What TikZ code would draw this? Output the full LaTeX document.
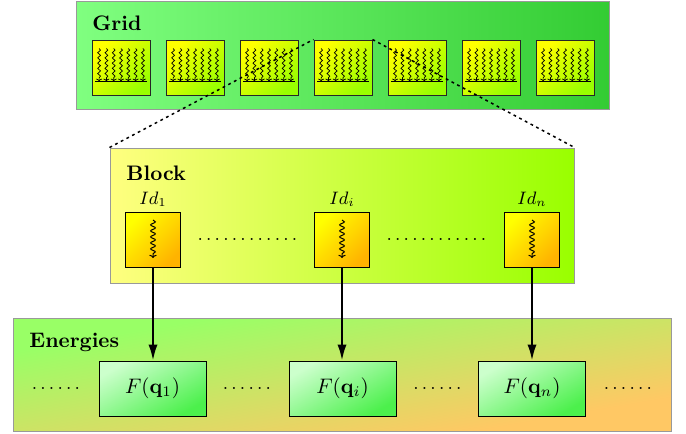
\RequirePackage{fix-cm}
\documentclass[tikz,border=0pt]{standalone}
\usetikzlibrary{arrows.meta,decorations.pathmorphing,calc}
\definecolor{gridL}{HTML}{80FF80}
\definecolor{gridR}{HTML}{33CC33}
\definecolor{blockL}{HTML}{FFFF80}
\definecolor{blockR}{HTML}{99FF00}
\definecolor{cellA}{HTML}{FFFF00}
\definecolor{cellB}{HTML}{99FF00}
\definecolor{idA}{HTML}{FFFF00}
\definecolor{idB}{HTML}{FFB300}
\definecolor{fA}{HTML}{CCFFCC}
\definecolor{fB}{HTML}{4CF04C}
\definecolor{enA}{HTML}{99FF66}
\definecolor{enB}{HTML}{FFC864}
\begin{document}
\begin{tikzpicture}[x=0.5pt,y=-0.5pt,
  panel/.style={draw=black!40, line width=0.5pt, inner sep=0pt},
  ptitle/.style={font=\fontsize{10.5}{12.6}\selectfont\bfseries, inner sep=0pt, anchor=base west},
  cell/.style={draw=black!85, line width=0.5pt, inner sep=0pt, minimum width=29pt, minimum height=27.5pt,
    top color=cellA, bottom color=cellB, shading angle=45},
  idbox/.style={draw=black, line width=0.5pt, inner sep=0pt, minimum width=27.5pt, minimum height=27.5pt,
    top color=idA, bottom color=idB, shading angle=45},
  fbox/.style={draw=black, line width=0.5pt, inner sep=0pt, minimum width=53.5pt, minimum height=27.5pt,
    top color=fA, bottom color=fB, shading angle=30, font=\fontsize{10.5}{12.6}\selectfont},
  idlab/.style={font=\fontsize{9}{11}\selectfont, inner sep=0pt, anchor=base},
  dots/.style={font=\fontsize{9.4}{11}\selectfont, inner sep=0pt, anchor=base},
  wavy/.style={line width=0.35pt, decorate, decoration={snake, amplitude=0.7pt, segment length=2.6pt, post length=1.5pt},
    -{To[length=1.3pt,width=3pt]}},
  wavybig/.style={line width=0.5pt, decorate, decoration={snake, amplitude=1.2pt, segment length=3pt, post length=2pt},
    -{To[length=1.6pt,width=3.6pt]}},
  link/.style={line width=0.75pt, dash pattern=on 1.4pt off 1.8pt},
  feed/.style={line width=1pt, -{Latex[length=8pt,width=4.6pt]}}
]
\useasboundingbox (0,0) rectangle (686,434);

% panels
\node[panel, minimum width=266.5pt, minimum height=54pt, left color=gridL, right color=gridR] (grid) at (342.5,55) {};
\node[panel, minimum width=232pt, minimum height=67.5pt, left color=blockL, right color=blockR] (block) at (342,215.5) {};
\begin{scope}[transform canvas={shift={(342,374.5)}, xscale=5.823}]
  \shade[top color=enA, bottom color=enB, shading angle=45] (-28.25pt,-28.25pt) rectangle (28.25pt,28.25pt);
\end{scope}
\node[panel, minimum width=329pt, minimum height=56.5pt] (energies) at (342,374.5) {};

\node[ptitle] (gridtitle) at (92,30) {Grid};
\node[ptitle] (blocktitle) at (126,180) {Block};
\node[ptitle] (energiestitle) at (29,347) {Energies};

% grid cells
\foreach \i in {1,...,7} {
  \node[cell] (c\i) at ({121+74*(\i-1)},67.5) {};
  \foreach \dx in {-21.9,-14.6,-7.3,0,7.3,14.6,21.9}
    \draw[wavy] ([shift={(\dx,-19)}]c\i.center) -- ([shift={(\dx,13.8)}]c\i.center);
  \draw[line width=0.3pt] ([shift={(-26,14)}]c\i.center) -- ([shift={(26,14)}]c\i.center);
}

% block items
\node[idbox] (id1) at (153,239.5) {};
\node[idbox] (idi) at (342,239.5) {};
\node[idbox] (idn) at (532,239.5) {};
\foreach \n in {id1,idi,idn}
  \draw[wavybig] ([shift={(0,-19.5)}]\n.center) -- ([shift={(0,18.5)}]\n.center);
\node[idlab] (lab1) at (153,204) {$Id_1$};
\node[idlab] (labi) at (342,204) {$Id_i$};
\node[idlab] (labn) at (532,204) {$Id_n$};
\node[dots] (bd1) at (247.5,240.5) {$\ldots\ldots\ldots\ldots$};
\node[dots] (bd2) at (436.5,240.5) {$\ldots\ldots\ldots\ldots$};

% energies
\node[fbox] (f1) at (152.5,388.5) {$F(\mathbf{q}_1)$};
\node[fbox] (fi) at (342.5,388.5) {$F(\mathbf{q}_i)$};
\node[fbox] (fn) at (532,388.5) {$F(\mathbf{q}_n)$};
\node[dots] (ed1) at (56,389.5) {$\ldots\ldots$};
\node[dots] (ed2) at (247,389.5) {$\ldots\ldots$};
\node[dots] (ed3) at (437.5,389.5) {$\ldots\ldots$};
\node[dots] (ed4) at (628,389.5) {$\ldots\ldots$};

% connectors
\draw[feed] (id1.south) -- (id1.south |- f1.north);
\draw[feed] (idi.south) -- (idi.south |- fi.north);
\draw[feed] (idn.south) -- (idn.south |- fn.north);
\draw[link] (block.north west) -- (c4.north west);
\draw[link] (c4.north east) -- (block.north east);
\end{tikzpicture}
\end{document}
